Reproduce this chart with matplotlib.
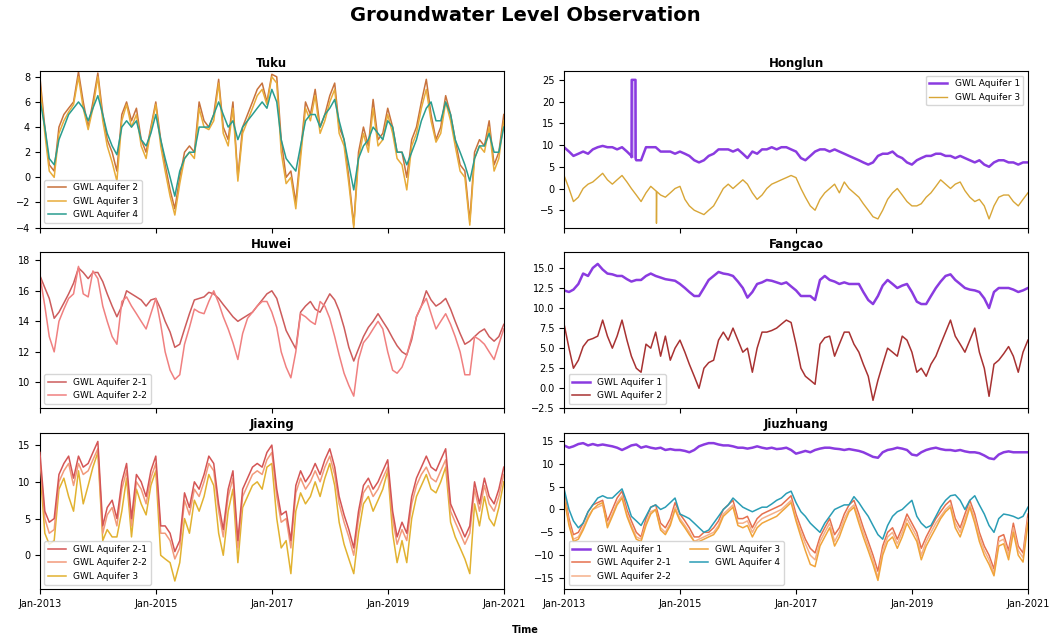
import pandas as pd
import matplotlib.pyplot as plt
import matplotlib.dates as mdates

# monthly readings, Jan-2013 .. Jan-2021
months = pd.date_range("2013-01-01", "2021-01-01", freq="MS")
tick_dates = pd.date_range("2013-01-01", "2021-01-01", freq="2YS")

# --- Tuku ---
tuku_aq2 = [8.0, 4.0, 1.0, 0.5, 4.0, 5.0, 5.5, 6.0, 8.4, 6.0, 4.0, 6.0, 8.3, 5.0, 3.0, 2.0, 0.5, 5.0, 6.0, 4.5,
            5.5, 3.0, 2.0, 4.0, 6.0, 3.0, 1.0, -1.0, -2.5, 0.0, 2.0, 2.5, 2.0, 6.0, 4.5, 4.0, 5.0, 7.8, 4.0, 3.0,
            6.0, 0.0, 4.0, 5.0, 6.0, 7.0, 7.5, 6.0, 8.2, 8.0, 3.0, 0.0, 0.5, -2.0, 2.0, 6.0, 5.0, 7.0, 4.0, 5.0,
            6.5, 7.5, 4.0, 3.0, 0.0, -3.8, 2.0, 4.0, 2.5, 6.2, 3.0, 3.5, 5.5, 4.0, 2.0, 2.0, 0.0, 3.0, 4.0, 6.0,
            7.8, 5.0, 3.0, 4.0, 6.5, 5.0, 3.0, 1.0, 0.5, -3.5, 2.0, 3.0, 2.5, 4.5, 1.0, 2.0, 5.0]
tuku_aq3 = [7.5, 3.5, 0.5, 0.0, 3.5, 4.5, 5.2, 5.8, 8.0, 5.5, 3.8, 5.5, 8.0, 4.5, 2.5, 1.2, -0.3, 4.5, 5.8, 4.0,
            5.0, 2.5, 1.5, 3.8, 5.8, 2.5, 0.5, -1.5, -3.0, -0.5, 1.5, 2.0, 1.5, 5.5, 4.0, 3.8, 4.5, 7.5, 3.5, 2.5,
            5.5, -0.3, 3.5, 4.5, 5.5, 6.5, 7.0, 5.8, 8.0, 7.5, 2.0, -0.5, 0.0, -2.5, 1.5, 5.5, 4.5, 6.5, 3.5, 4.5,
            6.0, 7.0, 3.5, 2.5, -0.5, -4.0, 1.5, 3.5, 2.0, 5.5, 2.5, 3.0, 5.0, 3.5, 1.5, 1.0, -1.0, 2.5, 3.5, 5.5,
            7.0, 4.5, 2.8, 3.5, 6.0, 4.5, 2.5, 0.5, 0.0, -3.8, 1.5, 2.5, 2.0, 4.0, 0.5, 1.5, 4.5]
tuku_aq4 = [6.2, 4.0, 1.5, 1.0, 3.0, 4.0, 5.0, 5.5, 6.0, 5.5, 4.5, 5.5, 6.5, 5.0, 3.5, 2.5, 1.8, 4.0, 4.5, 4.0,
            4.5, 3.0, 2.5, 3.5, 5.0, 3.0, 1.5, 0.0, -1.5, 0.5, 1.5, 2.0, 2.0, 4.0, 4.0, 4.0, 5.0, 6.0, 5.0, 4.0,
            4.5, 3.0, 4.0, 4.5, 5.0, 5.5, 6.0, 5.5, 7.0, 6.0, 3.0, 1.5, 1.0, 0.5, 2.5, 4.5, 5.0, 5.0, 4.0, 5.0,
            5.5, 6.2, 4.5, 3.0, 1.0, -1.0, 1.5, 2.5, 3.0, 4.0, 3.5, 3.0, 4.5, 4.0, 2.0, 2.0, 1.0, 2.0, 3.0, 4.5,
            5.5, 6.0, 4.5, 4.5, 6.0, 5.0, 3.0, 2.0, 1.0, -0.3, 1.5, 2.5, 2.5, 3.5, 2.0, 2.0, 4.0]

# --- Honglun ---
honglun_aq1 = [9.5, 8.5, 7.5, 8.0, 8.5, 8.0, 9.0, 9.5, 9.8, 9.5, 9.5, 9.0, 9.5, 8.5, 7.5, 6.5, 6.5, 9.5, 9.5, 9.5,
               8.5, 8.5, 8.5, 8.0, 8.5, 8.0, 7.5, 6.5, 6.0, 6.5, 7.5, 8.0, 9.0, 9.0, 9.0, 8.5, 9.0, 8.0, 7.0, 8.5,
               8.0, 9.0, 9.0, 9.5, 9.0, 9.5, 9.5, 9.0, 8.5, 7.0, 6.5, 7.5, 8.5, 9.0, 9.0, 8.5, 9.0, 8.5, 8.0, 7.5,
               7.0, 6.5, 6.0, 5.5, 6.0, 7.5, 8.0, 8.0, 8.5, 7.5, 7.0, 6.0, 5.5, 6.5, 7.0, 7.5, 7.5, 8.0, 8.0, 7.5,
               7.5, 7.0, 7.5, 7.0, 6.5, 6.0, 6.5, 5.5, 5.0, 6.0, 6.5, 6.5, 6.0, 6.0, 5.5, 6.0, 6.0]
honglun_aq1_spike_dates = ["2014-03-02", "2014-03-03", "2014-03-27", "2014-03-28"]
honglun_aq1_spike_vals = [7.2, 25.0, 25.0, 6.8]
honglun_aq3 = [3.0, 0.0, -3.0, -2.0, 0.0, 1.0, 1.5, 2.5, 3.5, 2.0, 1.0, 2.0, 3.0, 1.5, 0.0, -1.5, -3.0, -1.0, 0.5, -0.5,
               -1.5, -2.0, -1.0, 0.0, 0.5, -2.5, -4.0, -5.0, -5.5, -6.0, -5.0, -4.0, -2.0, 0.0, 1.0, 0.0, 1.0, 2.0, 1.0, -1.0,
               -2.5, -1.5, 0.0, 1.0, 1.5, 2.0, 2.5, 3.0, 2.5, 0.0, -2.0, -4.0, -5.0, -2.5, -1.0, 0.0, 1.0, -1.0, 1.5, 0.0,
               -1.0, -2.0, -3.5, -5.0, -6.5, -7.0, -5.0, -2.5, -1.0, 0.0, -1.5, -3.0, -4.0, -4.0, -3.5, -2.0, -1.0, 0.5, 2.0, 1.0,
               0.0, 1.0, 1.5, -0.5, -2.0, -3.0, -2.5, -4.0, -7.0, -4.0, -2.0, -1.5, -1.5, -3.0, -4.0, -2.5, -1.0]
honglun_aq3_spike_dates = ["2014-08-05", "2014-08-06", "2014-08-08"]
honglun_aq3_spike_vals = [-0.6, -8.0, -0.7]

# --- Huwei ---
huwei_aq21 = [17.0, 16.2, 15.5, 14.2, 14.6, 15.2, 15.8, 16.5, 17.5, 17.2, 16.8, 17.2, 17.2, 16.6, 15.8, 15.0, 14.3, 15.0, 16.0, 15.8,
              15.6, 15.4, 15.0, 15.4, 15.5, 14.8, 14.0, 13.3, 12.3, 12.5, 13.5, 14.5, 15.4, 15.5, 15.6, 15.9, 15.8, 15.5, 15.1, 14.7,
              14.3, 14.0, 14.2, 14.4, 14.6, 15.0, 15.4, 15.8, 16.0, 15.5, 14.5, 13.4, 12.8, 12.2, 14.6, 15.0, 15.3, 14.8, 14.6, 15.2,
              15.8, 15.4, 14.7, 13.6, 12.3, 11.4, 12.2, 13.0, 13.6, 14.0, 14.5, 14.0, 13.5, 12.9, 12.4, 12.0, 11.8, 12.8, 14.3, 15.0,
              16.0, 15.4, 15.0, 15.2, 15.5, 14.8, 14.0, 13.2, 12.5, 12.7, 13.0, 13.3, 13.5, 13.0, 12.7, 13.0, 13.8]
huwei_aq22 = [17.0, 15.0, 13.0, 12.0, 14.0, 14.8, 15.5, 15.8, 17.6, 15.8, 15.6, 17.3, 16.8, 15.0, 14.0, 13.0, 12.5, 15.3, 15.6, 15.0,
              14.5, 14.0, 13.5, 14.5, 15.5, 13.8, 12.0, 10.8, 10.2, 10.5, 12.5, 13.6, 14.8, 14.6, 14.5, 15.3, 16.0, 15.2, 14.3, 13.5,
              12.6, 11.5, 13.2, 14.2, 14.6, 15.0, 15.3, 15.3, 14.6, 13.6, 12.0, 11.0, 10.3, 12.0, 14.5, 14.3, 14.0, 13.8, 15.3, 15.0,
              14.2, 13.0, 11.8, 10.6, 9.8, 9.1, 11.5, 12.6, 13.0, 13.5, 14.0, 13.5, 12.0, 10.8, 10.6, 11.0, 11.8, 13.0, 14.3, 15.0,
              15.5, 14.5, 13.5, 14.0, 14.5, 13.8, 13.0, 12.0, 10.5, 10.5, 13.0, 12.8, 12.5, 12.0, 11.5, 12.5, 13.5]

# --- Fangcao ---
fangcao_aq1 = [12.2, 12.0, 12.3, 13.0, 14.3, 14.0, 15.0, 15.5, 14.8, 14.3, 14.2, 14.0, 14.0, 13.6, 13.3, 13.5, 13.5, 14.0, 14.3, 14.0,
               13.8, 13.6, 13.5, 13.4, 13.0, 12.5, 12.0, 11.5, 11.5, 12.5, 13.5, 14.0, 14.5, 14.3, 14.2, 14.0, 13.3, 12.5, 11.3, 12.0,
               13.0, 13.2, 13.5, 13.4, 13.2, 13.0, 13.2, 12.7, 12.2, 11.5, 11.5, 11.5, 11.0, 13.5, 14.0, 13.5, 13.3, 13.0, 13.2, 13.0,
               13.0, 13.0, 12.0, 11.0, 10.5, 11.5, 12.8, 13.5, 13.0, 12.5, 12.8, 13.0, 12.0, 10.8, 10.5, 10.5, 11.5, 12.5, 13.3, 14.0,
               14.2, 13.5, 13.0, 12.5, 12.3, 12.2, 12.0, 11.2, 10.0, 12.0, 12.5, 12.5, 12.5, 12.3, 12.0, 12.2, 12.5]
fangcao_aq2 = [8.0, 5.0, 2.5, 3.5, 5.2, 6.0, 6.2, 6.5, 8.5, 6.5, 5.0, 6.5, 8.5, 6.0, 4.0, 2.5, 2.0, 5.5, 5.0, 7.0,
               4.0, 6.5, 3.5, 5.0, 6.0, 4.5, 3.0, 1.5, 0.0, 2.5, 3.2, 3.5, 6.0, 7.0, 6.0, 7.5, 6.0, 4.5, 5.0, 2.0,
               5.0, 7.0, 7.0, 7.2, 7.5, 8.0, 8.5, 8.2, 5.5, 2.5, 1.5, 1.0, 0.5, 5.5, 6.3, 6.5, 4.0, 5.5, 7.0, 7.0,
               5.5, 4.5, 3.0, 1.5, -1.5, 1.0, 3.0, 5.0, 4.5, 4.0, 6.5, 6.0, 4.5, 2.0, 2.5, 1.5, 3.0, 4.0, 5.5, 7.0,
               8.5, 6.5, 5.5, 4.5, 6.0, 7.5, 4.5, 2.5, -1.0, 3.0, 3.5, 4.3, 5.2, 4.0, 2.0, 4.5, 6.0]

# --- Jiaxing ---
jiaxing_aq21 = [14.0, 6.0, 4.5, 5.0, 11.0, 12.5, 13.5, 10.5, 13.5, 12.0, 12.5, 14.0, 15.5, 4.0, 6.5, 7.5, 5.0, 10.0, 12.5, 5.0,
                11.0, 10.0, 8.0, 11.5, 13.5, 4.0, 4.0, 3.0, 0.5, 2.0, 8.5, 6.5, 10.0, 9.0, 11.0, 13.5, 12.5, 7.0, 3.5, 9.0,
                11.5, 2.0, 9.0, 10.5, 12.0, 12.5, 12.0, 14.0, 15.0, 9.0, 5.5, 6.0, 2.0, 9.5, 11.5, 10.0, 11.0, 12.5, 11.0, 13.0,
                14.5, 12.0, 8.0, 5.5, 3.5, 1.0, 6.0, 9.5, 10.5, 9.0, 10.0, 11.5, 13.0, 6.0, 2.5, 4.5, 3.0, 8.0, 10.5, 12.0,
                13.5, 12.0, 11.5, 13.0, 14.5, 7.0, 5.5, 4.0, 2.5, 4.0, 10.0, 7.0, 10.5, 8.0, 7.0, 9.0, 12.0]
jiaxing_aq22 = [13.0, 5.0, 3.0, 3.5, 10.0, 11.5, 12.5, 9.5, 12.5, 11.0, 11.5, 13.0, 14.5, 3.0, 5.5, 6.5, 4.0, 9.0, 11.5, 4.0,
                10.0, 9.0, 7.0, 10.5, 12.5, 3.0, 3.0, 2.0, -0.5, 1.0, 7.5, 5.5, 9.0, 8.0, 10.0, 12.5, 11.5, 6.0, 2.5, 8.0,
                10.5, 1.0, 8.0, 9.5, 11.0, 11.5, 11.0, 13.0, 14.0, 8.0, 4.5, 5.0, 1.0, 8.5, 10.5, 9.0, 10.0, 11.5, 10.0, 12.0,
                13.5, 11.0, 7.0, 4.5, 2.5, 0.0, 5.0, 8.5, 9.5, 8.0, 9.0, 10.5, 12.0, 5.0, 1.5, 3.5, 2.0, 7.0, 9.5, 11.0,
                12.0, 10.5, 10.0, 11.5, 13.0, 6.0, 4.5, 3.0, 1.5, 3.0, 9.0, 6.0, 9.5, 7.0, 6.0, 8.0, 11.0]
jiaxing_aq3 = [12.0, 3.0, 1.5, 2.0, 9.0, 10.5, 8.0, 6.0, 11.5, 7.0, 9.5, 12.0, 14.0, 2.0, 3.5, 2.5, 2.5, 6.0, 10.5, 2.5,
               9.0, 7.0, 5.5, 9.5, 11.5, 0.0, -0.5, -1.0, -3.5, -1.0, 5.0, 3.0, 7.5, 6.0, 8.0, 11.0, 9.5, 3.0, 0.0, 6.0,
               9.0, -1.0, 6.5, 8.0, 9.5, 10.0, 9.0, 12.0, 12.5, 5.0, 1.0, 2.0, -2.5, 6.0, 8.5, 7.0, 8.0, 10.0, 8.0, 10.5,
               12.5, 9.5, 4.5, 1.5, -0.5, -2.5, 3.0, 7.0, 8.0, 6.0, 7.5, 9.0, 11.5, 3.0, -1.0, 2.0, -1.0, 5.0, 8.0, 9.5,
               11.0, 9.0, 8.5, 10.0, 12.0, 4.5, 2.5, 1.0, -0.5, -2.5, 7.0, 4.0, 8.0, 5.0, 4.0, 6.5, 10.0]

# --- Jiuzhuang ---
jiuzhuang_aq1 = [14.0, 13.5, 13.8, 14.3, 14.5, 14.0, 14.3, 14.0, 14.2, 14.0, 13.8, 13.5, 13.0, 13.5, 14.0, 14.2, 13.5, 13.8, 13.5, 13.3,
                 13.5, 13.0, 13.2, 13.0, 13.0, 12.8, 12.5, 13.0, 13.8, 14.2, 14.5, 14.5, 14.2, 14.0, 14.0, 13.8, 13.5, 13.5, 13.3, 13.5,
                 13.8, 13.5, 13.3, 13.5, 13.2, 13.3, 13.5, 13.0, 12.2, 12.5, 12.8, 12.5, 13.0, 13.3, 13.5, 13.5, 13.3, 13.2, 13.0, 13.2,
                 13.0, 12.8, 12.5, 12.0, 11.5, 11.3, 12.5, 13.0, 13.2, 13.5, 13.3, 13.0, 12.0, 11.8, 12.5, 13.0, 13.3, 13.5, 13.2, 13.0,
                 13.0, 12.8, 13.0, 12.7, 12.5, 12.5, 12.3, 11.8, 11.2, 11.0, 12.0, 12.5, 12.7, 12.5, 12.5, 12.5, 12.5]
jiuzhuang_aq21 = [4.0, -2.0, -5.5, -5.0, -3.0, -0.5, 1.0, 1.5, 2.0, -2.5, 0.0, 2.5, 4.0, 0.0, -2.5, -5.0, -6.0, -2.0, 0.5, 1.0,
                  -3.0, -4.0, -2.0, 1.5, -1.0, -2.5, -4.0, -6.0, -6.0, -5.0, -5.0, -4.0, -2.5, 0.0, 1.0, 2.0, -2.0, -2.0, -1.5, -4.0,
                  -2.0, -1.0, -0.5, 0.0, 0.5, 1.0, 2.0, 3.0, -1.0, -4.0, -6.5, -8.5, -9.5, -6.0, -4.0, -2.0, -5.5, -4.0, -1.0, 1.0,
                  2.0, -1.0, -4.0, -7.0, -10.0, -13.5, -8.0, -5.0, -4.0, -6.5, -4.0, -1.0, -3.0, -5.0, -8.5, -6.0, -4.0, -2.0, -0.5, 1.0,
                  2.0, -2.0, -4.0, -1.0, 2.0, -1.0, -5.0, -8.0, -10.0, -13.0, -6.0, -5.5, -9.0, -3.0, -8.0, -9.5, -1.0]
jiuzhuang_aq22 = [3.0, -3.0, -6.5, -6.0, -4.0, -1.5, 0.0, 0.5, 1.0, -3.5, -1.0, 1.5, 3.0, -1.0, -3.5, -6.0, -6.5, -3.0, -0.5, 0.0,
                  -4.0, -5.0, -3.0, 0.5, -2.0, -3.5, -5.0, -7.0, -6.5, -6.0, -5.5, -5.0, -3.5, -1.0, 0.0, 1.0, -3.0, -3.0, -2.5, -5.0,
                  -3.0, -2.0, -1.5, -1.0, -0.5, 0.0, 1.0, 2.0, -2.0, -5.0, -7.5, -10.0, -11.0, -7.0, -5.0, -3.0, -7.0, -5.0, -2.0, 0.0,
                  1.0, -2.0, -5.0, -8.0, -11.0, -15.0, -9.0, -6.0, -5.0, -7.5, -5.0, -2.0, -4.0, -6.0, -10.0, -7.0, -5.0, -3.0, -1.5, 0.0,
                  1.0, -3.0, -5.0, -2.0, 1.0, -2.0, -6.0, -9.0, -11.0, -14.0, -7.0, -6.5, -10.0, -4.0, -9.0, -10.5, -2.0]
jiuzhuang_aq3 = [2.5, -3.5, -7.0, -6.5, -4.5, -2.0, 0.0, 1.0, 1.5, -4.0, -1.5, 1.0, 2.5, -1.5, -4.0, -6.5, -7.0, -3.5, -1.0, 0.0,
                 -4.5, -5.5, -3.5, 0.0, -2.5, -4.0, -5.5, -7.0, -7.0, -6.5, -6.0, -5.5, -4.0, -1.5, -0.5, 0.5, -3.5, -4.0, -3.5, -6.0,
                 -4.0, -3.0, -2.5, -2.0, -1.5, -0.5, 0.5, 1.5, -2.5, -6.0, -9.0, -12.0, -12.5, -8.0, -6.0, -4.0, -8.0, -6.0, -3.0, -0.5,
                 0.5, -3.0, -6.0, -9.0, -12.0, -15.5, -10.0, -7.0, -6.0, -8.5, -6.0, -3.0, -5.0, -7.0, -11.0, -8.0, -6.0, -4.0, -2.0, -0.5,
                 0.5, -4.0, -6.0, -3.0, 0.5, -3.0, -7.0, -10.0, -12.0, -14.5, -8.0, -7.5, -11.0, -5.0, -10.0, -11.5, -3.0]
jiuzhuang_aq4 = [4.5, 0.0, -2.5, -4.0, -3.0, -0.5, 1.0, 2.5, 3.0, 2.5, 2.5, 3.5, 4.5, 1.5, -1.5, -2.5, -3.5, -1.5, 0.5, 1.0,
                 0.0, 0.5, 1.5, 2.5, -1.0, -1.5, -2.0, -3.0, -4.0, -5.0, -4.5, -3.0, -1.5, 0.0, 1.0, 2.5, 1.5, 0.5, 0.0, -0.5,
                 0.0, 0.5, 0.5, 1.2, 2.0, 2.5, 3.5, 4.0, 1.5, -0.5, -1.5, -3.0, -4.0, -5.0, -3.0, -1.5, 0.0, 0.5, 1.0, 1.0,
                 2.8, 1.5, 0.0, -1.5, -3.5, -5.5, -6.5, -3.5, -1.5, -0.5, 0.0, 1.0, 2.0, -1.5, -3.0, -4.0, -3.5, -1.5, 0.5, 2.0,
                 3.0, 3.2, 2.0, 0.0, 2.0, 3.0, 1.0, -1.0, -3.5, -5.0, -2.0, -1.0, -1.2, -1.5, -2.0, -1.5, 0.5]

purple = "#8a3be0"


def series(vals, extra_dates=None, extra_vals=None):
    s = pd.Series(vals, index=months)
    if extra_dates is not None:
        s = pd.concat([s, pd.Series(extra_vals, index=pd.to_datetime(extra_dates))]).sort_index()
    return s


fig, axes = plt.subplots(3, 2, figsize=(10.5, 6.41), sharex=True)
fig.subplots_adjust(left=0.038, right=0.979, bottom=0.081, top=0.889, wspace=0.13, hspace=0.155)
fig.suptitle("Groundwater Level Observation", fontsize=14, fontweight="bold", y=0.99)

# Tuku
ax = axes[0, 0]
ax.plot(series(tuku_aq2), color="#c8723c", lw=1.1, label="GWL Aquifer 2")
ax.plot(series(tuku_aq3), color="#e8ac3a", lw=1.1, label="GWL Aquifer 3")
ax.plot(series(tuku_aq4), color="#2a9d8f", lw=1.1, label="GWL Aquifer 4")
ax.set_ylim(-4, 8.45)
ax.set_yticks([-4, -2, 0, 2, 4, 6, 8])
ax.set_title("Tuku", fontsize=8.5, fontweight="bold", pad=3)
ax.legend(loc="lower left", fontsize=6.5)

# Honglun
ax = axes[0, 1]
h1 = series(honglun_aq1, honglun_aq1_spike_dates, honglun_aq1_spike_vals)
spike = pd.to_datetime(honglun_aq1_spike_dates)
ax.fill_between(spike[1:3], 7.0, honglun_aq1_spike_vals[1:3], color=purple, alpha=0.35, lw=0)
ax.plot(h1, color=purple, lw=1.8, label="GWL Aquifer 1")
ax.plot(series(honglun_aq3, honglun_aq3_spike_dates, honglun_aq3_spike_vals), color="#d8a637", lw=1.0,
        label="GWL Aquifer 3")
ax.set_ylim(-9, 27)
ax.set_yticks([-5, 0, 5, 10, 15, 20, 25])
ax.set_title("Honglun", fontsize=8.5, fontweight="bold", pad=3)
ax.legend(loc="upper right", fontsize=6.5)

# Huwei
ax = axes[1, 0]
ax.plot(series(huwei_aq21), color="#cd5c5c", lw=1.1, label="GWL Aquifer 2-1")
ax.plot(series(huwei_aq22), color="#f08080", lw=1.1, label="GWL Aquifer 2-2")
ax.set_ylim(8.3, 18.55)
ax.set_yticks([10, 12, 14, 16, 18])
ax.set_title("Huwei", fontsize=8.5, fontweight="bold", pad=3)
ax.legend(loc="lower left", fontsize=6.5)

# Fangcao
ax = axes[1, 1]
ax.plot(series(fangcao_aq1), color=purple, lw=1.8, label="GWL Aquifer 1")
ax.plot(series(fangcao_aq2), color="#a83232", lw=1.1, label="GWL Aquifer 2")
ax.set_ylim(-2.3, 17)
ax.set_yticks([-2.5, 0, 2.5, 5, 7.5, 10, 12.5, 15])
ax.set_title("Fangcao", fontsize=8.5, fontweight="bold", pad=3)
ax.legend(loc="lower left", fontsize=6.5)

# Jiaxing
ax = axes[2, 0]
ax.plot(series(jiaxing_aq3), color="#e2b230", lw=1.1, label="GWL Aquifer 3", zorder=2)
ax.plot(series(jiaxing_aq22), color="#f29a7a", lw=1.1, label="GWL Aquifer 2-2", zorder=3)
ax.plot(series(jiaxing_aq21), color="#d45555", lw=1.1, label="GWL Aquifer 2-1", zorder=4)
ax.set_ylim(-4.6, 16.7)
ax.set_yticks([0, 5, 10, 15])
ax.set_title("Jiaxing", fontsize=8.5, fontweight="bold", pad=3)
handles, labels = ax.get_legend_handles_labels()
ax.legend(handles[::-1], labels[::-1], loc="lower left", fontsize=6.5)

# Jiuzhuang
ax = axes[2, 1]
ax.plot(series(jiuzhuang_aq1), color=purple, lw=1.8, label="GWL Aquifer 1")
ax.plot(series(jiuzhuang_aq21), color="#e5704e", lw=1.1, label="GWL Aquifer 2-1")
ax.plot(series(jiuzhuang_aq22), color="#f5b08a", lw=1.1, label="GWL Aquifer 2-2")
ax.plot(series(jiuzhuang_aq3), color="#f0a43a", lw=1.1, label="GWL Aquifer 3")
ax.plot(series(jiuzhuang_aq4), color="#2a9db5", lw=1.1, label="GWL Aquifer 4")
ax.set_ylim(-17.4, 16.8)
ax.set_yticks([-15, -10, -5, 0, 5, 10, 15])
ax.set_title("Jiuzhuang", fontsize=8.5, fontweight="bold", pad=3)
ax.legend(loc="lower left", fontsize=6.5, ncol=2)

for ax in axes.flat:
    ax.set_xlim(pd.Timestamp("2013-01-01"), pd.Timestamp("2021-01-01"))
    ax.set_xticks(tick_dates)
    ax.xaxis.set_major_formatter(mdates.DateFormatter("%b-%Y"))
    ax.tick_params(labelsize=7)

fig.text(0.5, 0.012, "Time", ha="center", fontsize=7, fontweight="bold")

plt.savefig("out.png", dpi=100)
